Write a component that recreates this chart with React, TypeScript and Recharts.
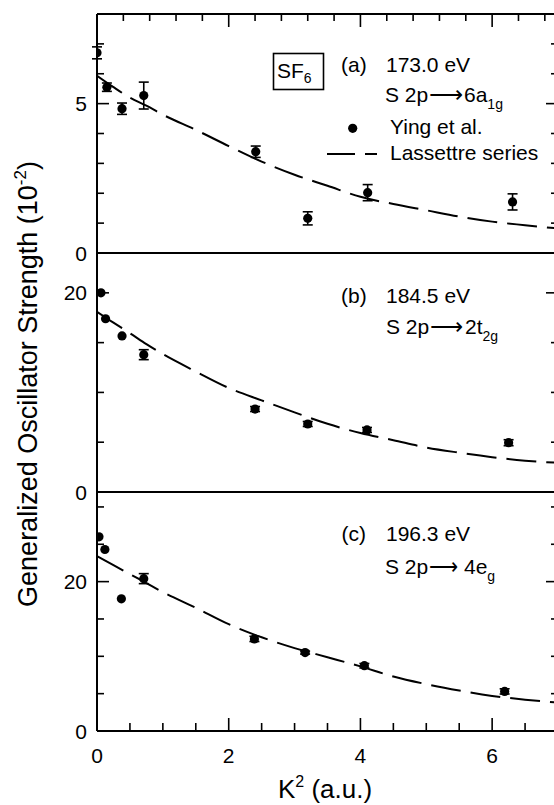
import React from 'react';
import { ComposedChart, Line, Scatter, XAxis, YAxis, ErrorBar } from 'recharts';

// ---- data ----
const kA = [0.0, 0.15, 0.38, 0.71, 2.41, 3.2, 4.11, 6.31];
const gosA = [6.7, 5.55, 4.83, 5.27, 3.39, 1.16, 2.02, 1.71];
const errA = [0.2, 0.14, 0.19, 0.45, 0.19, 0.22, 0.27, 0.27];

const kB = [0.06, 0.13, 0.38, 0.71, 2.4, 3.2, 4.1, 6.25];
const gosB = [20.0, 17.4, 15.67, 13.79, 8.33, 6.83, 6.23, 4.95];
const errB = [0, 0, 0, 0.5, 0.25, 0.25, 0.25, 0.3];

const kC = [0.03, 0.12, 0.37, 0.71, 2.39, 3.16, 4.06, 6.19];
const gosC = [26.0, 24.3, 17.7, 20.4, 12.33, 10.5, 8.74, 5.3];
const errC = [0, 0, 0, 0.67, 0.35, 0.2, 0.3, 0.35];

const curveK = [0, 0.25, 0.5, 0.75, 1, 1.5, 2, 2.5, 3, 3.5, 4, 4.5, 5, 5.5, 6, 6.5, 7];
const lassA = [5.93, 5.55, 5.2, 4.93, 4.63, 4.12, 3.58, 3.06, 2.62, 2.25, 1.88, 1.64, 1.43, 1.22, 1.05, 0.93, 0.82];
const lassB = [18.1, 17.0, 15.95, 14.85, 13.85, 12.1, 10.45, 9.2, 8.0, 6.85, 5.92, 5.2, 4.47, 3.95, 3.5, 3.15, 2.93];
const lassC = [23.4, 22.2, 21.0, 19.8, 18.6, 16.5, 14.3, 12.55, 11.1, 9.88, 8.65, 7.3, 6.27, 5.42, 4.7, 4.2, 3.8];

const xTicksBottom = [0, 0.5, 1, 1.5, 2, 2.5, 3, 3.5, 4, 4.5, 5, 5.5, 6, 6.5, 7];
const xTickLabels = [0, 2, 4, 6];
const xTicksTop = [0.4, 0.8, 1.2, 1.6, 2, 2.4, 2.8, 3.2, 3.6, 4, 4.4, 4.8, 5.2, 5.6, 6, 6.4, 6.8];
const xTopMajor = [2, 4, 6];

const yTicksA = [0, 1, 2, 3, 4, 5, 6, 7];
const yLabelsA = [0, 5];
const yTicksB = [0, 5, 10, 15, 20];
const yLabelsB = [0, 20];
const yTicksC = [0, 5, 10, 15, 20, 25, 30];
const yLabelsC = [0, 20];

const FONT = '"Liberation Sans", Arial, Helvetica, sans-serif';
const W = 562;
const H = 805;

const zip = (xs: number[], ys: number[], es?: number[]) =>
  xs.map((x, i) => ({ x, y: ys[i], err: es ? es[i] : 0 }));

const makeLeftTick = (labels: number[]) => (props: any) => {
  const { x, y, payload } = props;
  const major = labels.includes(payload.value);
  return (
    <g>
      <line x1={x} y1={y} x2={x + (major ? 12 : 7)} y2={y} stroke="#000" strokeWidth={1.6} />
      {major && (
        <text x={x - 10} y={y} dy="0.36em" textAnchor="end" fontSize={21} fontFamily={FONT} fill="#000">
          {payload.value}
        </text>
      )}
    </g>
  );
};

const makeRightTick = (labels: number[]) => (props: any) => {
  const { x, y, payload } = props;
  const major = labels.includes(payload.value);
  return <line x1={x} y1={y} x2={x - (major ? 12 : 7)} y2={y} stroke="#000" strokeWidth={1.6} />;
};

const BottomTick = (props: any) => {
  const { x, y, payload } = props;
  const major = xTickLabels.includes(payload.value);
  return (
    <g>
      <line x1={x} y1={y} x2={x} y2={y - (major ? 13 : 8)} stroke="#000" strokeWidth={1.6} />
      {major && (
        <text x={x} y={y + 32} textAnchor="middle" fontSize={21} fontFamily={FONT} fill="#000">
          {payload.value}
        </text>
      )}
    </g>
  );
};

const TopTick = (props: any) => {
  const { x, y, payload } = props;
  const major = xTopMajor.includes(payload.value);
  return <line x1={x} y1={y} x2={x} y2={y + (major ? 13 : 7)} stroke="#000" strokeWidth={1.6} />;
};

const NoTick = () => null;

const Dot = (props: any) => {
  const { cx, cy } = props;
  if (cx == null || cy == null) return null;
  return <circle cx={cx} cy={cy} r={4.6} fill="#000" />;
};

const axisLine = { stroke: '#000', strokeWidth: 2 };

type PanelProps = {
  top: number;
  bottom: number;
  domainMax: number;
  yTicks: number[];
  yLabels: number[];
  pts: { x: number; y: number; err: number }[];
  curve: { x: number; y: number }[];
  showTop?: boolean;
  showBottomTicks?: boolean;
};

const Panel = ({ top, bottom, domainMax, yTicks, yLabels, pts, curve, showTop, showBottomTicks }: PanelProps) => {
  const margin = {
    top: showTop ? top - 1 : top,
    bottom: H - bottom - 1,
    left: 96,
    right: W - 558 - 1,
  };
  return (
    <div style={{ position: 'absolute', left: 0, top: 0 }}>
      <ComposedChart width={W} height={H} margin={margin}>
        <XAxis
          xAxisId={0}
          dataKey="x"
          type="number"
          domain={[0, 7]}
          allowDataOverflow
          ticks={showBottomTicks ? xTicksBottom : []}
          interval={0}
          height={1}
          tickSize={0}
          tickMargin={0}
          axisLine={axisLine}
          tickLine={false}
          tick={showBottomTicks ? BottomTick : NoTick}
        />
        {showTop && (
          <XAxis
            xAxisId="top"
            orientation="top"
            dataKey="x"
            type="number"
            domain={[0, 7]}
            allowDataOverflow
            ticks={xTicksTop}
            interval={0}
            height={1}
            tickSize={0}
            tickMargin={0}
            axisLine={axisLine}
            tickLine={false}
            tick={TopTick}
          />
        )}
        <YAxis
          yAxisId={0}
          type="number"
          domain={[0, domainMax]}
          allowDataOverflow
          ticks={yTicks}
          interval={0}
          width={1}
          tickSize={0}
          tickMargin={0}
          axisLine={axisLine}
          tickLine={false}
          tick={makeLeftTick(yLabels)}
        />
        <YAxis
          yAxisId="r"
          orientation="right"
          type="number"
          domain={[0, domainMax]}
          allowDataOverflow
          ticks={yTicks}
          interval={0}
          width={1}
          tickSize={0}
          tickMargin={0}
          axisLine={axisLine}
          tickLine={false}
          tick={makeRightTick(yLabels)}
        />
        <Line
          data={curve}
          dataKey="y"
          type="monotone"
          stroke="#000"
          strokeWidth={2}
          strokeDasharray="30 10"
          dot={false}
          activeDot={false}
          isAnimationActive={false}
        />
        <Scatter data={pts} dataKey="y" fill="#000" shape={Dot} isAnimationActive={false}>
          <ErrorBar dataKey="err" direction="y" width={5} stroke="#000" strokeWidth={1.6} />
        </Scatter>
      </ComposedChart>
    </div>
  );
};

const txt = { fontFamily: FONT, fill: '#000' } as const;

export default function App() {
  const ptsA = zip(kA, gosA, errA);
  const ptsB = zip(kB, gosB, errB);
  const ptsC = zip(kC, gosC, errC);
  const cA = zip(curveK, lassA);
  const cB = zip(curveK, lassB);
  const cC = zip(curveK, lassC);
  return (
    <div style={{ position: 'absolute', left: 0, top: 0, width: 554, height: 805, overflow: 'hidden', background: '#fff' }}>
      <Panel top={14} bottom={253} domainMax={8} yTicks={yTicksA} yLabels={yLabelsA} pts={ptsA} curve={cA} showTop />
      <Panel top={253} bottom={492} domainMax={24} yTicks={yTicksB} yLabels={yLabelsB} pts={ptsB} curve={cB} />
      <Panel top={492} bottom={731} domainMax={32} yTicks={yTicksC} yLabels={yLabelsC} pts={ptsC} curve={cC} showBottomTicks />
      <svg width={554} height={805} style={{ position: 'absolute', left: 0, top: 0, pointerEvents: 'none' }}>
        {/* panel (a) annotations */}
        <rect x={273.5} y={53.5} width={50} height={36} fill="none" stroke="#000" strokeWidth={1.6} />
        <text x={277} y={78} fontSize={21} {...txt}>
          SF<tspan fontSize={14} dy={5}>6</tspan>
        </text>
        <text x={341} y={72} fontSize={21} {...txt}>(a)</text>
        <text x={386} y={72} fontSize={21} {...txt}>173.0 eV</text>
        <text x={385} y={102} fontSize={21} {...txt}>S 2p</text>
        <text x={429} y={102} fontSize={21} textLength={34} lengthAdjust="spacingAndGlyphs" {...txt}>⟶</text>
        <text x={464} y={102} fontSize={21} {...txt}>
          6a<tspan fontSize={14} dy={7}>1g</tspan>
        </text>
        <circle cx={352.7} cy={128.3} r={4.6} fill="#000" />
        <text x={390} y={134} fontSize={21} {...txt}>Ying et al.</text>
        <line x1={327} y1={154} x2={377} y2={154} stroke="#000" strokeWidth={2} strokeDasharray="28 10" />
        <text x={390} y={160} fontSize={21} {...txt}>Lassettre series</text>

        {/* panel (b) annotations */}
        <text x={341} y={303} fontSize={21} {...txt}>(b)</text>
        <text x={386} y={303} fontSize={21} {...txt}>184.5 eV</text>
        <text x={386} y={334} fontSize={21} {...txt}>S 2p</text>
        <text x={430} y={334} fontSize={21} textLength={33} lengthAdjust="spacingAndGlyphs" {...txt}>⟶</text>
        <text x={465} y={334} fontSize={21} {...txt}>
          2t<tspan fontSize={14} dy={7}>2g</tspan>
        </text>

        {/* panel (c) annotations */}
        <text x={341.5} y={541} fontSize={21} {...txt}>(c)</text>
        <text x={386} y={541} fontSize={21} {...txt}>196.3 eV</text>
        <text x={385} y={574} fontSize={21} {...txt}>S 2p</text>
        <text x={429} y={574} fontSize={21} textLength={29} lengthAdjust="spacingAndGlyphs" {...txt}>⟶</text>
        <text x={464} y={574} fontSize={21} {...txt}>
          4e<tspan fontSize={14} dy={7}>g</tspan>
        </text>

        {/* axis titles */}
        <text
          transform="translate(37, 384) rotate(-90)"
          x={0}
          y={0}
          textAnchor="middle"
          fontSize={27}
          {...txt}
        >
          Generalized Oscillator Strength (10<tspan fontSize={17} dy={-11}>-2</tspan>
          <tspan dy={11}>)</tspan>
        </text>
        <text x={325} y={798} textAnchor="middle" fontSize={26} {...txt}>
          K<tspan fontSize={16} dy={-11}>2</tspan>
          <tspan dy={11}> (a.u.)</tspan>
        </text>
      </svg>
    </div>
  );
}
